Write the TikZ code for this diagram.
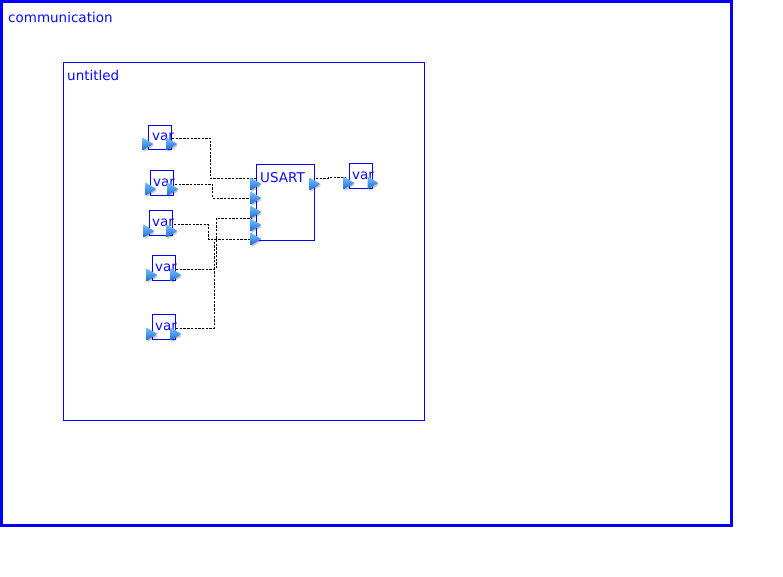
\documentclass[tikz,border=0pt]{standalone}
\usepackage{fontspec}
\setmainfont{DejaVu Sans}
\begin{document}
\begin{tikzpicture}[x=1pt,y=-1pt,
  ink/.style={color={rgb,255:red,10;green,10;blue,255}},
  frame/.style={draw={rgb,255:red,0;green,0;blue,255},inner sep=0,outer sep=0,anchor=north west},
  blockbox/.style={frame,line width=0.9pt},
  lbl/.style={ink,inner sep=0,font=\fontsize{13.5}{16}\selectfont},
  wire/.style={draw=black,line width=0.9pt,dash pattern=on 2.4pt off 1.3pt},
  port/.pic={
    \fill[black,opacity=0.22] (-4.5,-4) -- (5.5,2) -- (-4.5,8) -- cycle;
    \shade[top color={rgb,255:red,120;green,195;blue,255},
           bottom color={rgb,255:red,25;green,105;blue,215}]
      (-5.5,-6.5) -- (5.5,0) -- (-5.5,6.5) -- cycle;
  }]
\useasboundingbox (0,0) rectangle (783,577);

% containers
\node[frame,line width=3pt,minimum width=730,minimum height=523.5] (comm) at (1.5,1.5) {};
\node[lbl,anchor=west] (commt) at (8,17) {communication};
\node[frame,line width=0.9pt,minimum width=361,minimum height=358] (untitled) at (63.5,62.5) {};
\node[lbl,anchor=west] (untitledt) at (67,75) {untitled};

% wire end points
\coordinate (v1o) at (172,138);
\coordinate (v2o) at (175,184);
\coordinate (v3o) at (174,224);
\coordinate (v4o) at (176,269);
\coordinate (v5o) at (176,328);
\coordinate (u1) at (256,178);
\coordinate (u2) at (256,198);
\coordinate (u4) at (251,218);
\coordinate (u5) at (256,239);
\coordinate (j5) at (214,239);
\coordinate (uo) at (316,178);
\coordinate (v6i) at (346,177);

% connections
\draw[wire] (v1o) -- (210,138) -- (210,178) -- (u1);
\draw[wire] (v2o) -- (212.5,184) -- (212.5,198) -- (u2);
\draw[wire] (v3o) -- (208,224) -- (208,239) -- (u5);
\draw[wire] (v4o) -- (216,269) -- (216,218) -- (u4);
\draw[wire] (v5o) -- (214,328) -- (j5);
\draw[wire] (uo) -- (328,178) -- (328,177) -- (v6i);

% blocks
\node[blockbox,minimum width=23,minimum height=24] (v1) at (148,125) {};
\node[lbl,anchor=west] (v1t) at ([xshift=4pt]v1.west) {var};
\node[blockbox,minimum width=23,minimum height=25] (v2) at (150,170) {};
\node[lbl,anchor=west] (v2t) at ([xshift=3pt]v2.west) {var};
\node[blockbox,minimum width=23,minimum height=25] (v3) at (149,210) {};
\node[lbl,anchor=west] (v3t) at ([xshift=3pt]v3.west) {var};
\node[blockbox,minimum width=23,minimum height=25] (v4) at (152,255) {};
\node[lbl,anchor=west] (v4t) at ([xshift=3pt]v4.west) {var};
\node[blockbox,minimum width=23,minimum height=25] (v5) at (152,314.5) {};
\node[lbl,anchor=west] (v5t) at ([xshift=3pt]v5.west) {var};
\node[blockbox,minimum width=23,minimum height=25] (v6) at (349,163.5) {};
\node[lbl,anchor=west] (v6t) at ([xshift=3pt]v6.west) {var};
\node[blockbox,minimum width=58,minimum height=76] (usart) at (256,164) {};
\node[lbl,anchor=west] (usartt) at (260,177.5) {USART};

% ports
\foreach \p in {(148,144),(172,144),(151,189),(173,189),(149,231),(172,231),
                (152,275),(176,275),(152,334),(176,334),(349,183),(373,183),
                (256,184),(256,198),(256,212),(256,225),(256,239),(315,184)}
  \pic at \p {port};
\end{tikzpicture}
\end{document}
